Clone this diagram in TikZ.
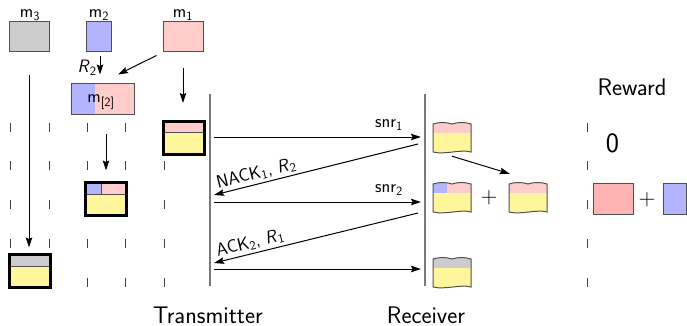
\documentclass[tikz,border=0pt]{standalone}
\usepackage{fontspec}
\usetikzlibrary{arrows.meta,calc}

\definecolor{pinkfill}{HTML}{FFCCCC}
\definecolor{bluefill}{HTML}{B3B3FF}
\definecolor{grayfill}{HTML}{CCCCCC}
\definecolor{yellowfill}{HTML}{FFF69C}
\definecolor{rewardpink}{HTML}{FFB3B3}
\definecolor{edgegray}{HTML}{505050}
\definecolor{lifegray}{HTML}{7A7A7A}
\definecolor{tickgray}{HTML}{404040}

% outline of a received buffer: wavy top and bottom, 38 x 30 units
\newcommand\wavyoutline{(0,1) .. controls (6,-1) and (13,-1) .. (19,1) .. controls (25,-1) and (32,-1) .. (38,1) -- (38,29) .. controls (28,26) and (12,32) .. (0,29) -- cycle}

% #1 name, #2 top-left corner, #3 left band colour, #4 right band colour, #5 split position
\newcommand\wavybuffer[5]{%
  \begin{scope}[shift={#2}]
    \begin{scope}
      \clip \wavyoutline;
      \fill[yellowfill] (-1,-3) rectangle (39,33);
      \fill[#4] (-1,-3) rectangle (39,10);
      \fill[#3] (-1,-3) rectangle (#5,10);
    \end{scope}
    \draw[edgegray, line width=1pt] \wavyoutline;
    \node[inner sep=0pt, minimum width=38pt, minimum height=30pt] (#1) at (19,15) {};
  \end{scope}}

\tikzset{
  lbl/.style={font=\sffamily\fontsize{18}{21}\selectfont},
  biglbl/.style={inner sep=0pt, font=\sffamily\fontsize{24}{28}\selectfont},
  symlbl/.style={inner sep=0pt, font=\sffamily\fontsize{#1}{#1}\selectfont},
  msgbox/.style={draw=edgegray, line width=1pt, inner sep=0pt, minimum height=30pt},
  tick/.style={draw=tickgray, line width=1pt},
  lifeline/.style={draw=lifegray, line width=1.5pt},
  arr/.style={-{Stealth[length=10pt,width=6.5pt,inset=1.5pt]}, line width=1pt},
  % transmit buffer: thick frame, coloured header band over a yellow body
  txbuf/.style n args={3}{draw=black, line width=3pt, inner sep=0pt,
    minimum width=41pt, minimum height=33pt,
    path picture={
      \coordinate (pa) at (path picture bounding box.north west);
      \coordinate (pb) at (path picture bounding box.south east);
      \coordinate (pc) at ($(pa)!0.35!(pa |- pb)$);
      \coordinate (pd) at ($(pa)!#3!(pa -| pb)$);
      \fill[yellowfill] (pa) rectangle (pb);
      \fill[#2] (pa) rectangle (pc -| pb);
      \fill[#1] (pa) rectangle (pc -| pd);
      \draw[edgegray, line width=1pt] (pc) -- (pc -| pb) (pd) -- (pd |- pc);
    }},
}

\begin{document}
\begin{tikzpicture}[x=1pt, y=-1pt, font=\sffamily]
\useasboundingbox (0,0) rectangle (687,326);

% time ticks of the buffer columns and of the reward column
\foreach \x in {10,49,87,125,164,587}
  \foreach \y in {127,165.75,204.5,243.25,282}
    \draw[tick] (\x,\y-4.5) -- (\x,\y+4.5);

% messages waiting to be sent
\node[msgbox, fill=grayfill, minimum width=40pt] (m3) at (29,37) {};
\node[msgbox, fill=bluefill, minimum width=25pt] (m2) at (98.5,37) {};
\node[msgbox, fill=pinkfill, minimum width=40pt] (m1) at (183,37) {};
\node[lbl, inner sep=0pt] (m3l) at (30,15) {m\textsubscript{3}};
\node[lbl, inner sep=0pt] (m2l) at (99,15) {m\textsubscript{2}};
\node[lbl, inner sep=0pt] (m1l) at (183,15) {m\textsubscript{1}};

% combined message
\node[msgbox, minimum width=63pt,
  path picture={
    \fill[pinkfill] (path picture bounding box.north west) rectangle (path picture bounding box.south east);
    \fill[bluefill] (path picture bounding box.north west) rectangle ($(path picture bounding box.south west)+(24,0)$);
  }] (mm) at (102.5,99) {};
\node[lbl, inner sep=0pt] (mml) at (101,102) {m\textsubscript{[2]}};

% transmit buffers
\node[txbuf={pinkfill}{pinkfill}{0}] (tx1) at (183.5,137.5) {};
\node[txbuf={bluefill}{pinkfill}{0.38}] (tx2) at (106,199) {};
\node[txbuf={grayfill}{grayfill}{0}] (tx3) at (29.5,271) {};

\draw[arr] ($(m2.south)+(1.5,4)$) -- node[lbl, pos=0.62, left=3pt, inner sep=0pt] {\textit{R}\textsubscript{2}} ($(mm.north)+(-2.5,-9)$);
\draw[arr] ($(m1.south west)+(-6,3)$) -- ($(mm.north)+(15.5,-9)$);
\draw[arr] ($(m1.south)+(0,16)$) -- ($(tx1.north)+(-0.5,-16.5)$);
\draw[arr] ($(mm.south)+(3.5,19)$) -- ($(tx2.north)+(0,-10.5)$);
\draw[arr] ($(m3.south)+(0,23)$) -- ($(tx3.north)+(-0.5,-5.5)$);

% lifelines
\coordinate (txtop) at (210,94);
\coordinate (txbot) at (210,286);
\coordinate (rxtop) at (425,94);
\coordinate (rxbot) at (425,286);
\draw[lifeline] (txtop) -- (txbot);
\draw[lifeline] (rxtop) -- (rxbot);
\node[biglbl] (txname) at (208,315) {Transmitter};
\node[biglbl] (rxname) at (426,315) {Receiver};

% received buffers
\wavybuffer{rx1}{(433,123)}{pinkfill}{pinkfill}{0}
\wavybuffer{rx2}{(433,183)}{bluefill}{pinkfill}{14}
\wavybuffer{rx3}{(509,183)}{pinkfill}{pinkfill}{0}
\wavybuffer{rx4}{(433,258)}{grayfill}{grayfill}{0}
\node[symlbl=23] (plusa) at (489,198) {+};
\draw[arr] ($(rx1.south)+(0,3)$) -- ($(rx3.north west)+(1,-9)$);

% exchanged signals
\coordinate (s1a) at (214,137);
\coordinate (s1b) at (421,137);
\coordinate (n1a) at (418,144);
\coordinate (n1b) at (214,195);
\coordinate (s2a) at (214,202);
\coordinate (s2b) at (421,202);
\coordinate (a2a) at (418,213);
\coordinate (a2b) at (214,263);
\coordinate (s3a) at (214,269);
\coordinate (s3b) at (421,269);
\draw[arr] (s1a) -- node[lbl, pos=0.845, above=6pt, inner sep=0pt] {snr\textsubscript{1}} (s1b);
\draw[arr] (n1a) -- node[lbl, pos=0.78, rotate=14, anchor=south, inner sep=2.5pt] {NACK\textsubscript{1}, \textit{R}\textsubscript{2}} (n1b);
\draw[arr] (s2a) -- node[lbl, pos=0.845, above=6pt, inner sep=0pt] {snr\textsubscript{2}} (s2b);
\draw[arr] (a2a) -- node[lbl, pos=0.81, rotate=13.8, anchor=south, inner sep=2.5pt] {ACK\textsubscript{2}, \textit{R}\textsubscript{1}} (a2b);
\draw[arr] (s3a) -- (s3b);

% reward column
\node[biglbl] (rwname) at (632,87) {Reward};
\node[symlbl=28] (rwzero) at (612.5,143) {0};
\node[msgbox, fill=rewardpink, minimum width=40pt, minimum height=31pt] (rwa) at (613,198.5) {};
\node[symlbl=23] (plusb) at (647,200) {+};
\node[msgbox, fill=bluefill, minimum width=23pt, minimum height=31pt] (rwb) at (674.5,198.5) {};
\end{tikzpicture}
\end{document}
